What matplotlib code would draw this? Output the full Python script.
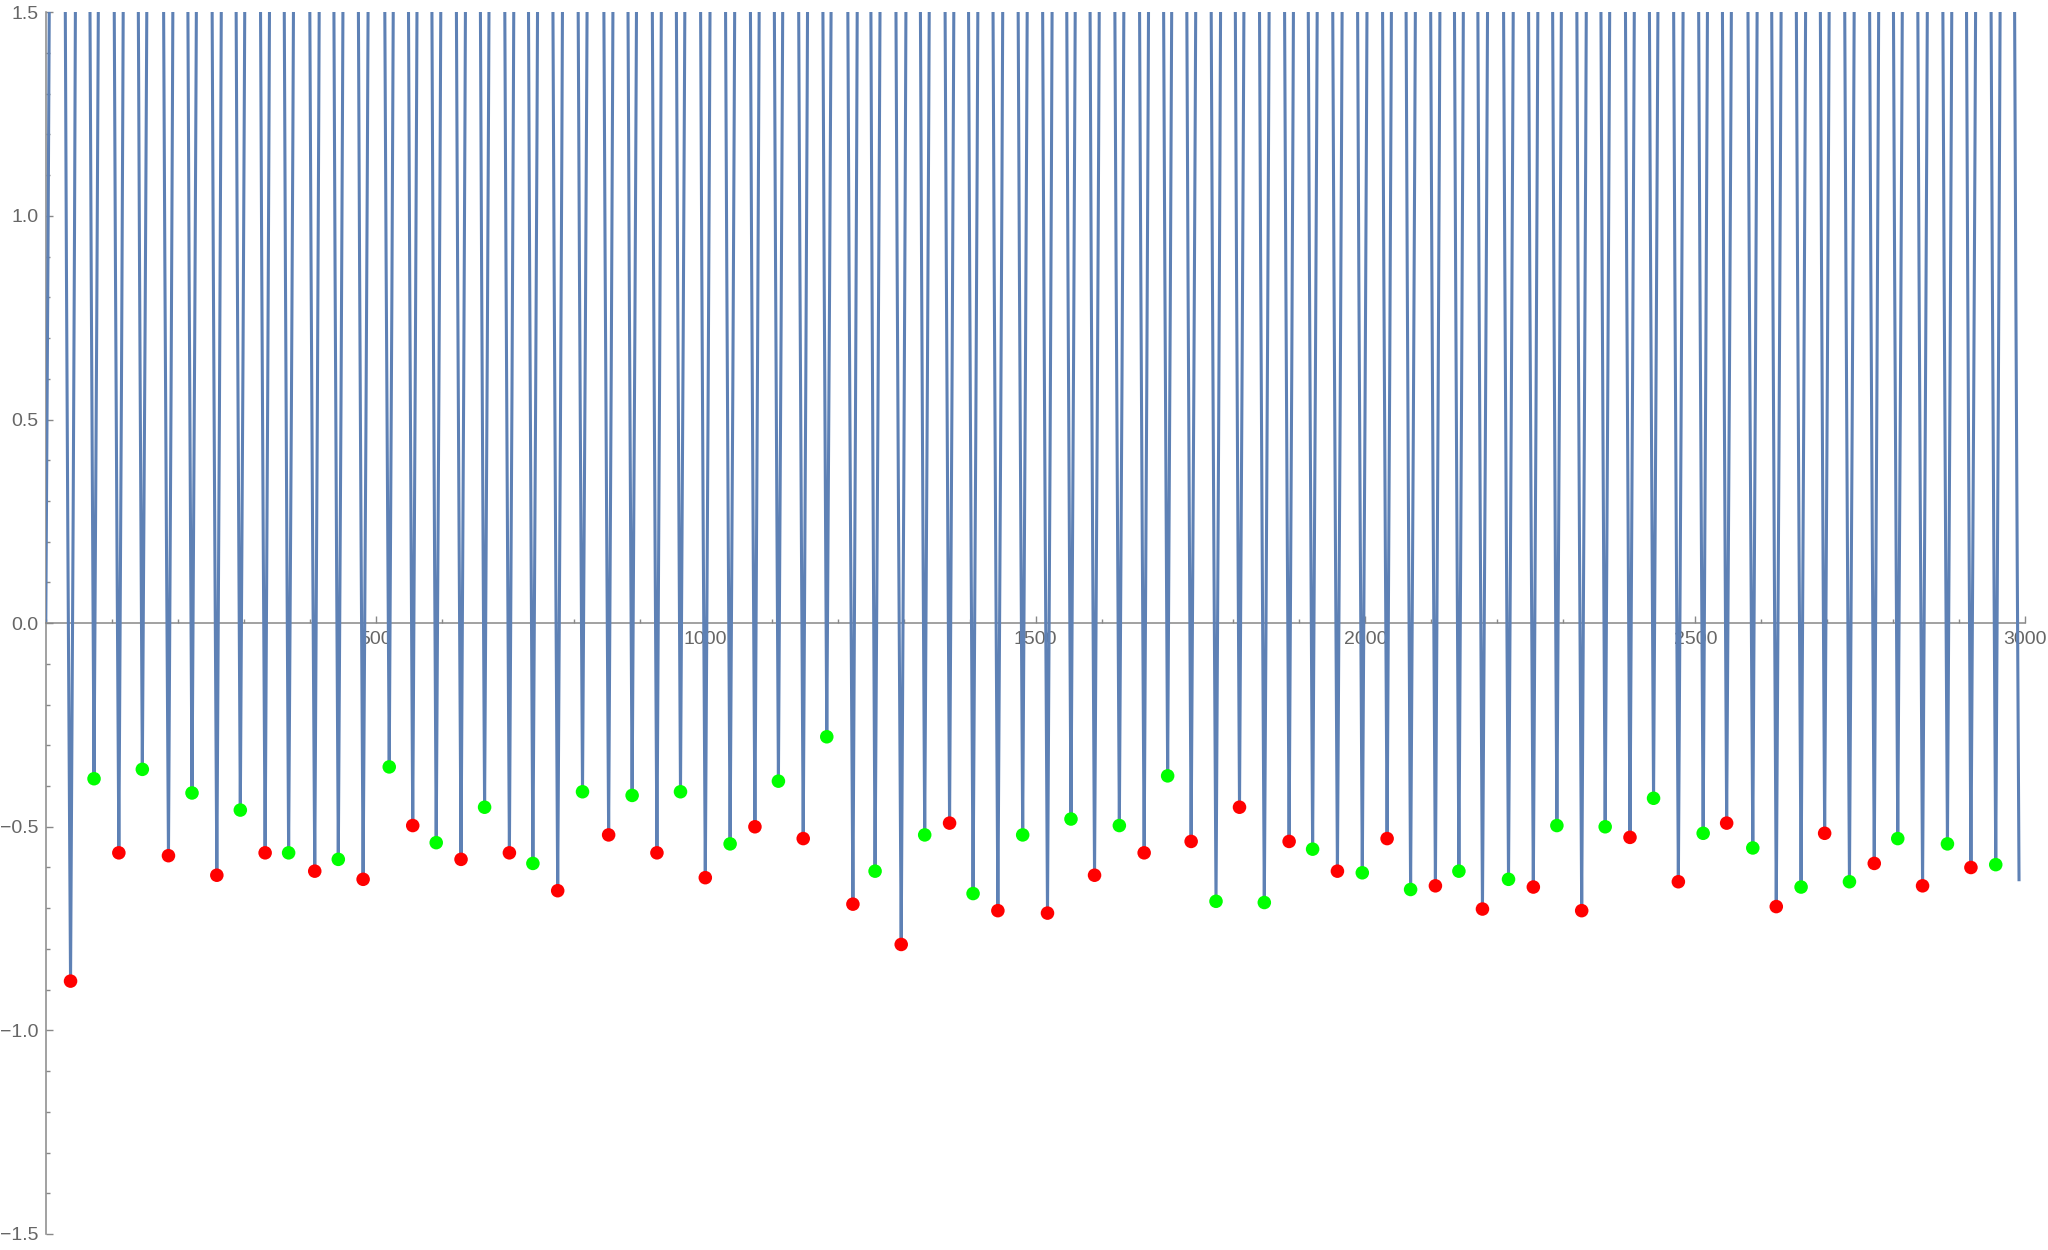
import numpy as np
import matplotlib
matplotlib.use("Agg")
import matplotlib.pyplot as plt
from matplotlib.ticker import MultipleLocator, FixedLocator

# ---- data ----
dip_x = [37.5, 73.1, 110.7, 146.3, 185.9, 221.6, 259.2, 294.8, 332.4, 368.0,
         407.6, 443.3, 480.9, 520.5, 556.1, 591.7, 629.3, 665.0, 702.6, 738.2,
         775.8, 813.4, 853.0, 888.6, 926.2, 961.9, 999.5, 1037.1, 1074.7, 1110.3,
         1147.9, 1183.6, 1223.2, 1256.8, 1296.4, 1332.0, 1369.7, 1405.3, 1442.9, 1480.5,
         1518.1, 1553.7, 1589.4, 1627.0, 1664.6, 1700.2, 1735.8, 1773.5, 1809.1, 1846.7,
         1884.3, 1919.9, 1957.5, 1995.2, 2032.8, 2068.4, 2106.0, 2141.6, 2177.3, 2216.8,
         2254.4, 2290.1, 2327.7, 2363.3, 2400.9, 2436.6, 2474.2, 2511.8, 2547.4, 2587.0,
         2622.6, 2660.2, 2695.9, 2733.5, 2771.1, 2806.7, 2844.3, 2882.0, 2917.6, 2955.2]
dip_y = [-0.879, -0.382, -0.564, -0.359, -0.571, -0.417, -0.619, -0.459, -0.564, -0.564,
         -0.609, -0.580, -0.629, -0.353, -0.497, -0.539, -0.580, -0.452, -0.564, -0.590,
         -0.657, -0.414, -0.520, -0.423, -0.564, -0.414, -0.625, -0.542, -0.500, -0.388,
         -0.529, -0.279, -0.690, -0.609, -0.789, -0.520, -0.491, -0.664, -0.706, -0.520,
         -0.712, -0.481, -0.619, -0.497, -0.564, -0.375, -0.536, -0.683, -0.452, -0.686,
         -0.536, -0.555, -0.609, -0.613, -0.529, -0.654, -0.645, -0.609, -0.702, -0.629,
         -0.648, -0.497, -0.706, -0.500, -0.526, -0.430, -0.635, -0.516, -0.491, -0.552,
         -0.696, -0.648, -0.516, -0.635, -0.590, -0.529, -0.645, -0.542, -0.600, -0.593]
dip_colors = ["#FF0000" if i % 2 == 0 else "#00FF00" for i in range(len(dip_x))]

# curve start/end (not marked with points)
start_dip = (-1.0, -0.25)
end_dip = (2990.5, -0.63)
curve_x_range = (0.0, 2990.5)

x_ticks = [500, 1000, 1500, 2000, 2500, 3000]
y_ticks = [-1.5, -1.0, -0.5, 0.0, 0.5, 1.0, 1.5]

# ---- build the curve: narrow V-shaped dips with poles between them ----
all_x = np.array([start_dip[0]] + dip_x + [end_dip[0]])
all_y = np.array([start_dip[1]] + dip_y + [end_dip[1]])
B = 3.14
xs = np.linspace(curve_x_range[0], curve_x_range[1], 300000)
k = np.clip(np.searchsorted(all_x, xs) - 1, 0, len(all_x) - 2)
xl, xr = all_x[k], all_x[k + 1]
yl, yr = all_y[k], all_y[k + 1]
h = (xr - xl) / 2.0
left = (xs - xl) <= h
d = np.where(left, xs - xl, xr - xs)
m = np.where(left, yl, yr)
with np.errstate(over="ignore", invalid="ignore"):
    ys = m + B * np.abs(np.tan(np.pi / 2 * np.minimum(d / h, 0.9999)))
ys = np.minimum(ys, 3.0)

# ---- figure ----
fig = plt.figure(figsize=(20.48, 12.5), dpi=100)
ax = fig.add_axes([45.8 / 2048, 16 / 1250, (2025.3 - 45.8) / 2048, (1234 - 12.3) / 1250])
ax.plot(xs, ys, color="#5E81B5", lw=2.2, zorder=2, solid_joinstyle="round")
ax.scatter(dip_x, dip_y, s=95, c=dip_colors, zorder=3, linewidths=0)

ax.set_xlim(0, 3000)
ax.set_ylim(-1.5, 1.5)

axis_col = "#888888"
txt_col = "#666666"
for s in ["top", "right"]:
    ax.spines[s].set_visible(False)
ax.spines["bottom"].set_position(("data", 0))
ax.spines["left"].set_position(("data", 0))
for s in ["bottom", "left"]:
    ax.spines[s].set_color(axis_col)
    ax.spines[s].set_linewidth(1.1)
    ax.spines[s].set_zorder(1)

ax.xaxis.set_major_locator(FixedLocator(x_ticks))
ax.xaxis.set_minor_locator(MultipleLocator(100))
ax.yaxis.set_major_locator(FixedLocator(y_ticks))
ax.yaxis.set_minor_locator(MultipleLocator(0.1))
ax.set_xticklabels([str(v) for v in x_ticks])
ax.set_yticklabels([f"{v:.1f}".replace("-", "\u2212") for v in y_ticks])

ax.tick_params(which="both", direction="in", color=axis_col, width=1.0,
               labelcolor=txt_col, labelsize=14)
ax.tick_params(which="major", length=5)
ax.tick_params(which="minor", length=3)
ax.tick_params(axis="x", pad=6)
ax.tick_params(axis="y", pad=5)
for lab in ax.get_xticklabels() + ax.get_yticklabels():
    lab.set_fontfamily(["Liberation Sans", "DejaVu Sans"])

fig.savefig("out.png", dpi=100)
